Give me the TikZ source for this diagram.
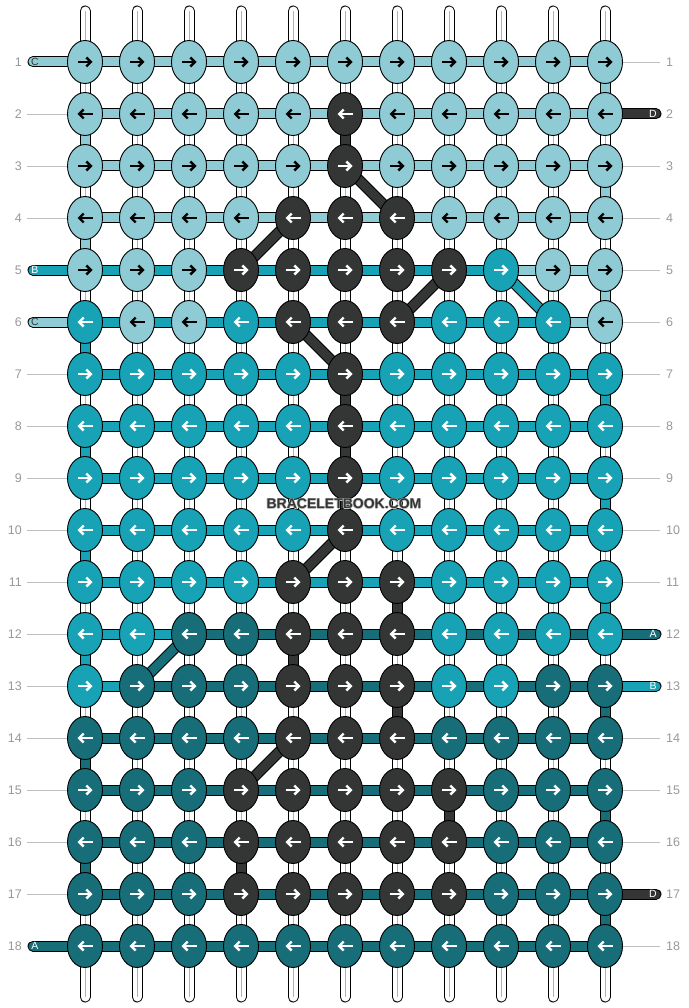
\documentclass[tikz,border=0pt]{standalone}
\usepackage{fontspec}
\setmainfont{Liberation Sans}
\usetikzlibrary{shapes.geometric,arrows.meta,backgrounds}
\definecolor{cL}{HTML}{8FCBD4}
\definecolor{cM}{HTML}{17A3B5}
\definecolor{cT}{HTML}{176D78}
\definecolor{cD}{HTML}{343636}
% arrow colours and tail letter colours
\colorlet{aL}{black}\colorlet{aM}{white}\colorlet{aT}{white}\colorlet{aD}{white}
\colorlet{lL}{cD}\colorlet{lM}{white}\colorlet{lT}{white}\colorlet{lD}{white}

\begin{document}
\begin{tikzpicture}[
    x=1pt,y=-1pt,
    knot/.style={ellipse,draw=black,line width=0.9pt,minimum width=35pt,minimum height=43pt,inner sep=0pt},
    arr/.style={line width=2.4pt,-{Straight Barb[length=4.5pt,width=9pt]}},
    strand/.style={double=#1,double distance=9pt,line width=1pt},
    warp/.style={strand=white,line cap=round},
    tail/.style={strand=#1,line cap=round},
    rowline/.style={draw=black!25,line width=0.8pt},
    rownum/.style={text=black!40,font=\fontsize{12.5}{14}\selectfont,inner sep=0pt},
    tag/.style={font=\fontsize{10.5}{12}\selectfont,inner sep=0pt},
    wmark/.style={font=\bfseries\fontsize{14}{16}\selectfont,inner sep=0pt}
    ]
    \useasboundingbox (0,0) rectangle (688,1008);
    \begin{pgfonlayer}{background}
      \fill[white] (0,0) rectangle (688,1008);
    \end{pgfonlayer}
    % knots of each row
    \foreach \row/\knots in {
      1/{L,L,L,L,L,L,L,L,L,L,L},
      2/{L,L,L,L,L,D,L,L,L,L,L},
      3/{L,L,L,L,L,D,L,L,L,L,L},
      4/{L,L,L,L,D,D,D,L,L,L,L},
      5/{L,L,L,D,D,D,D,D,M,L,L},
      6/{M,L,L,M,D,D,D,M,M,M,L},
      7/{M,M,M,M,M,D,M,M,M,M,M},
      8/{M,M,M,M,M,D,M,M,M,M,M},
      9/{M,M,M,M,M,D,M,M,M,M,M},
      10/{M,M,M,M,M,D,M,M,M,M,M},
      11/{M,M,M,M,D,D,D,M,M,M,M},
      12/{M,M,T,T,D,D,D,M,M,M,M},
      13/{M,T,T,T,D,D,D,M,M,T,T},
      14/{T,T,T,T,D,D,D,T,T,T,T},
      15/{T,T,T,D,D,D,D,D,T,T,T},
      16/{T,T,T,D,D,D,D,D,T,T,T},
      17/{T,T,T,D,D,D,D,D,T,T,T},
      18/{T,T,T,T,T,T,T,T,T,T,T}} {
      \foreach \k [count=\c] in \knots {
        \node[knot,fill=c\k] (k-\row-\c) at (33+52*\c,10+52*\row) {};
        \ifodd\row\relax
          \draw[arr,draw=a\k] ([xshift=-7.5pt]k-\row-\c.center) -- ([xshift=7.5pt]k-\row-\c.center);
        \else
          \draw[arr,draw=a\k] ([xshift=7.5pt]k-\row-\c.center) -- ([xshift=-7.5pt]k-\row-\c.center);
        \fi
      }
    }
    \foreach \c in {1,...,11} {
      \coordinate (top-\c) at (33+52*\c,11);
      \coordinate (bot-\c) at (33+52*\c,997);
    }
    \begin{pgfonlayer}{background}
      % white warps
      \foreach \c in {1,...,11} {
        \draw[warp] (top-\c) -- (bot-\c);
        \draw[black!30,line width=0.7pt] (top-\c) -- (bot-\c);
      }
      % links along the rows
      \foreach \row/\links in {
        1/{L,L,L,L,L,L,L,L,L,L},2/{L,L,L,L,L,L,L,L,L,L},
        3/{L,L,L,L,L,L,L,L,L,L},4/{L,L,L,L,L,L,L,L,L,L},
        5/{M,M,M,M,M,M,M,M,L,L},6/{M,M,M,M,M,M,M,M,M,L},
        7/{M,M,M,M,M,M,M,M,M,M},8/{M,M,M,M,M,M,M,M,M,M},
        9/{M,M,M,M,M,M,M,M,M,M},10/{M,M,M,M,M,M,M,M,M,M},
        11/{M,M,M,M,M,M,M,M,M,M},12/{M,M,T,T,T,T,T,T,T,T},
        13/{M,T,T,T,T,T,T,T,T,T},14/{T,T,T,T,T,T,T,T,T,T},
        15/{T,T,T,T,T,T,T,T,T,T},16/{T,T,T,T,T,T,T,T,T,T},
        17/{T,T,T,T,T,T,T,T,T,T},18/{T,T,T,T,T,T,T,T,T,T}}
        \foreach \s [count=\c from 2,remember=\c as \p (initially 1)] in \links
          \draw[strand=c\s] (k-\row-\p.center) -- (k-\row-\c.center);
      % coloured links between rows
      \foreach \c/\r/\s [evaluate=\r as \n using int(\r+1)] in {
        1/2/L,1/4/L,1/6/M,1/8/M,1/10/M,1/12/M,1/14/T,1/16/T,
        11/1/L,11/3/L,11/5/L,11/7/M,11/9/M,11/11/M,11/13/T,11/15/T,11/17/T,
        6/2/D,6/7/D,6/8/D,6/9/D,7/11/D,5/12/D,7/13/D,8/15/D,4/16/D}
        \draw[strand=c\s] (k-\r-\c.center) -- (k-\n-\c.center);
      % diagonals
      \foreach \a/\b/\s in {3-6/4-7/D,4-5/5-4/D,5-8/6-7/D,5-9/6-10/M,
        6-5/7-6/D,10-6/11-5/D,12-3/13-2/T,14-5/15-4/D}
        \draw[strand=c\s] (k-\a.center) -- (k-\b.center);
      % tails
      \foreach \r/\s/\t in {1/L/C,5/M/B,6/L/C,18/T/A} {
        \coordinate (tl-\r) at (33,10+52*\r);
        \draw[tail=c\s] (k-\r-1.center) -- (tl-\r);
        \node[tag,text=l\s] (tagl-\r) at (35,10+52*\r) {\t};
      }
      \foreach \r/\s/\t in {2/D/D,12/T/A,13/M/B,17/D/D} {
        \coordinate (tr-\r) at (656,10+52*\r);
        \draw[tail=c\s] (k-\r-11.center) -- (tr-\r);
        \node[tag,text=l\s] (tagr-\r) at (653,10+52*\r) {\t};
      }
      % row lines
      \foreach \r in {2,3,4,7,8,9,10,11,12,13,14,15,16,17} {
        \coordinate (ll-\r) at (27,10+52*\r);
        \draw[rowline] (ll-\r) -- (k-\r-1.west);
      }
      \foreach \r in {1,3,4,5,6,7,8,9,10,11,14,15,16,18} {
        \coordinate (lr-\r) at (660,10+52*\r);
        \draw[rowline] (k-\r-11.east) -- (lr-\r);
      }
    \end{pgfonlayer}
    % row numbers
    \foreach \r in {1,...,18} {
      \node[rownum,anchor=east] (nl-\r) at (22,10+52*\r) {\r};
      \node[rownum,anchor=west] (nr-\r) at (666,10+52*\r) {\r};
    }
    % watermark with a light halo
    \foreach \dx/\dy [count=\i] in {-0.7/0,0.7/0,0/-0.7,0/0.7}
      \node[wmark,text=white!75!black] (halo-\i) at (344+\dx,504+\dy) {BRACELETBOOK.COM};
    \node[wmark,text=cD] (water) at (344,504) {BRACELETBOOK.COM};
\end{tikzpicture}
\end{document}
